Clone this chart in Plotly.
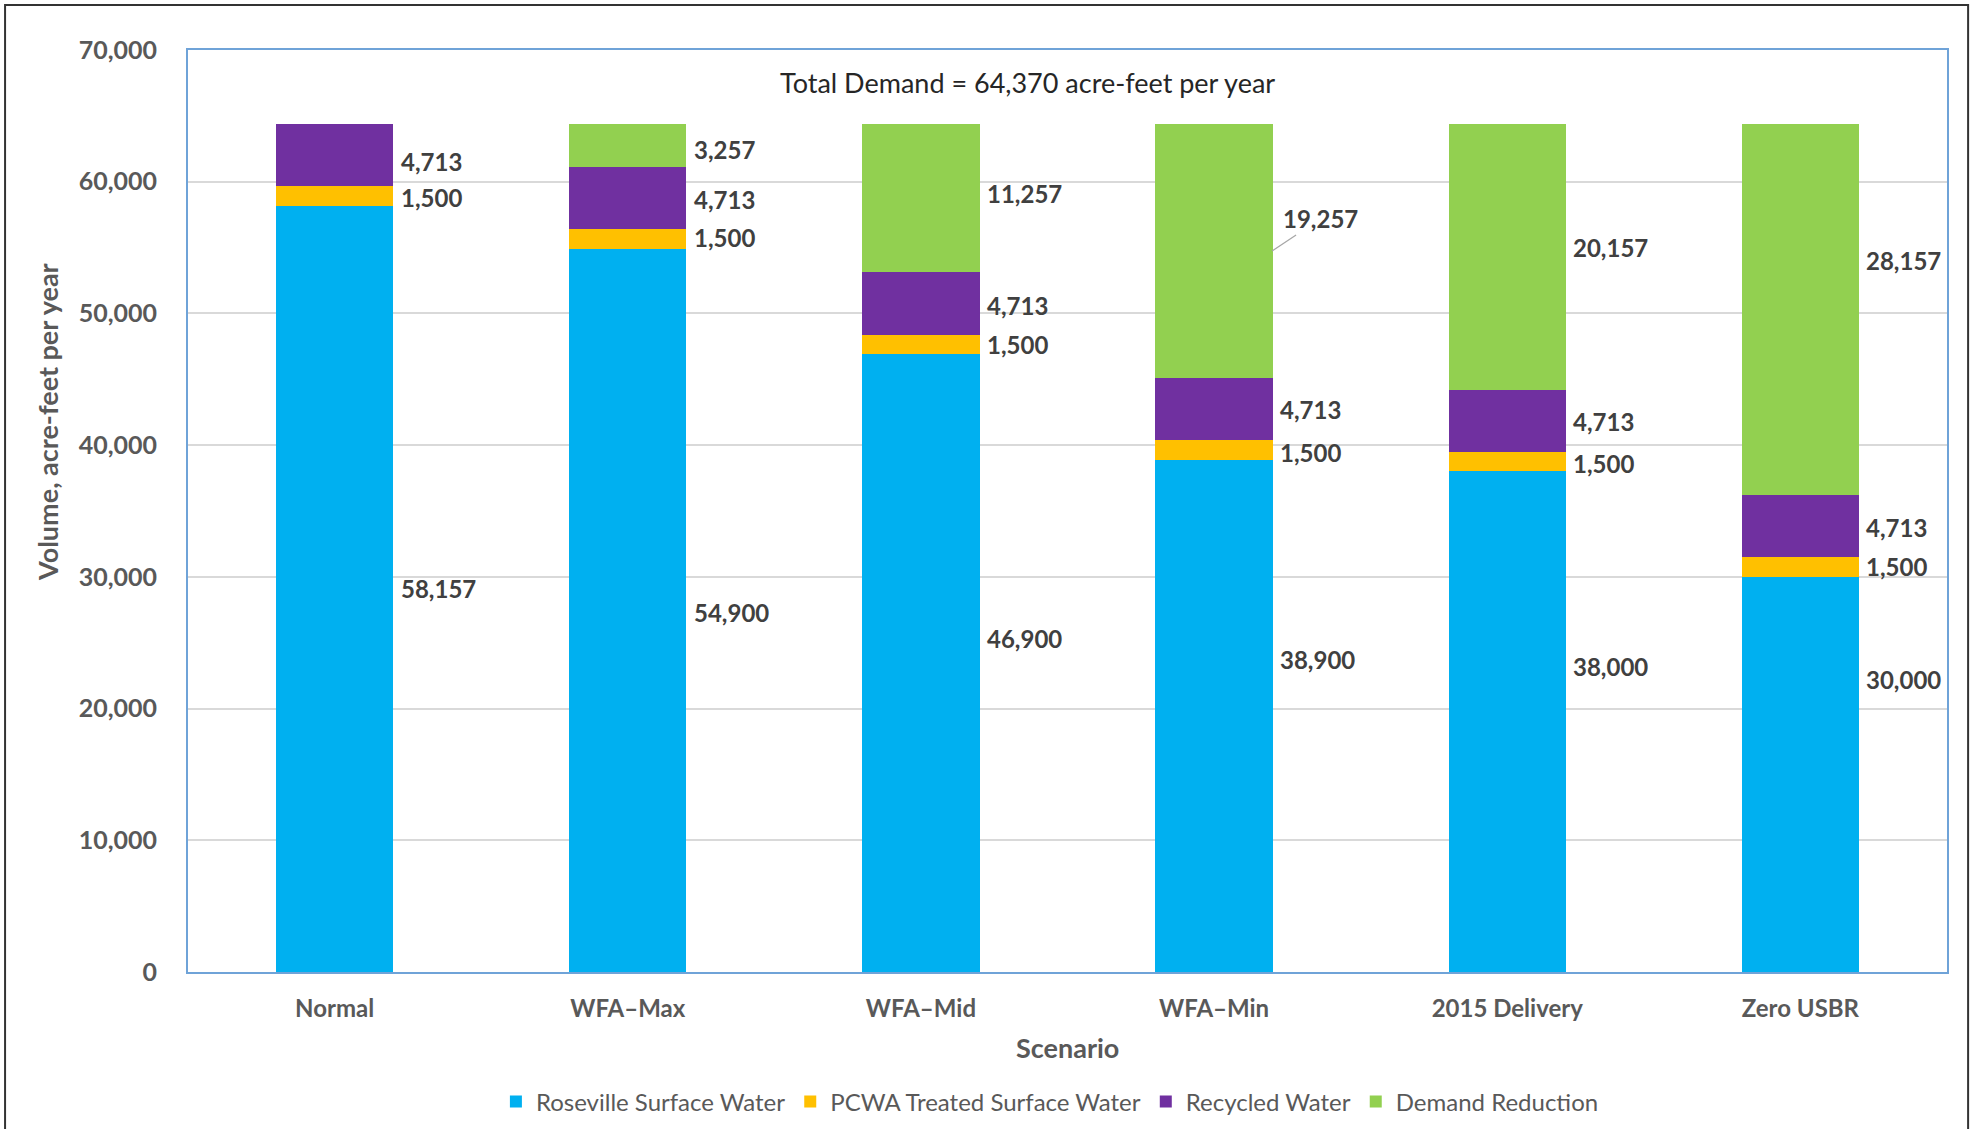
import plotly.graph_objects as go

categories = ["Normal", "WFA–Max", "WFA–Mid", "WFA–Min", "2015 Delivery", "Zero USBR"]
roseville = [58157, 54900, 46900, 38900, 38000, 30000]
pcwa = [1500, 1500, 1500, 1500, 1500, 1500]
recycled = [4713, 4713, 4713, 4713, 4713, 4713]
demand_reduction = [0, 3257, 11257, 19257, 20157, 28157]
series_names = ["Roseville Surface Water", "PCWA Treated Surface Water", "Recycled Water", "Demand Reduction"]
y_ticks = [0, 10000, 20000, 30000, 40000, 50000, 60000, 70000]
total_demand_text = "Total Demand = 64,370 acre-feet per year"

colors = ["#00B0F0", "#FFC000", "#7030A0", "#92D050"]
series = [roseville, pcwa, recycled, demand_reduction]

# label vertical pixel adjustments (layout only)
label_yshift = {
    0: [0, -2, 25, 56, 55, 95],
    1: [-1, 2, 0, -3, -2, 0],
    2: [-6, -1, -2, -1, -1, -1],
    3: [0, -4, 5, 0, 9, 49],
}

FONT = "Lato, 'Open Sans', Arial, sans-serif"
fig = go.Figure()
for name, vals, col in zip(series_names, series, colors):
    fig.add_trace(go.Bar(x=categories, y=vals, name=name, marker=dict(color=col, line=dict(width=0)),
                         width=0.4, hoverinfo="x+y+name"))

annotations = []
for i, cat in enumerate(categories):
    base = 0
    for s, vals in enumerate(series):
        v = vals[i]
        center = base + v / 2
        base += v
        if v == 0:
            continue
        txt = f"{v:,}"
        if s == 3 and cat == "WFA–Min":
            annotations.append(dict(x=cat, y=center, xref="x", yref="y", text=txt,
                                    showarrow=True, arrowhead=0, arrowwidth=1.2, arrowcolor="#A6A6A6",
                                    ax=48, ay=-32, xshift=58, xanchor="center",
                                    font=dict(family=FONT, size=24, color="#404040", weight="bold")))
            continue
        annotations.append(dict(x=cat, y=center, xref="x", yref="y", text=txt,
                                showarrow=False, xanchor="left", yanchor="middle", xshift=64,
                                yshift=label_yshift[s][i],
                                font=dict(family=FONT, size=24, color="#404040", weight="bold")))

annotations.append(dict(x=0.477, y=0.965, xref="paper", yref="paper", text=total_demand_text,
                        showarrow=False, xanchor="center", yanchor="middle",
                        font=dict(family=FONT, size=27, color="#262626")))
annotations.append(dict(x=-0.0802, y=0.5965, xref="paper", yref="paper", text="Volume, acre-feet per year",
                        showarrow=False, textangle=-90, xanchor="center", yanchor="middle",
                        font=dict(family=FONT, size=27, color="#595959", weight="bold")))
annotations.append(dict(x=0.5, y=-0.0824, xref="paper", yref="paper", text="Scenario",
                        showarrow=False, xanchor="center", yanchor="middle",
                        font=dict(family=FONT, size=27, color="#595959", weight="bold")))

fig.update_layout(
    width=1976, height=1129,
    margin=dict(l=188, r=29, t=50, b=157, autoexpand=False),
    paper_bgcolor="white", plot_bgcolor="white",
    barmode="stack", bargap=0.6,
    font=dict(family=FONT, color="#595959"),
    annotations=annotations,
    showlegend=True,
    legend=dict(orientation="h", x=0.49, xanchor="center", y=-0.141, yanchor="middle",
                font=dict(family=FONT, size=24, color="#595959"),
                traceorder="normal", itemwidth=30),
    shapes=[dict(type="rect", xref="paper", yref="paper", x0=-0.104, x1=1.012, y0=-0.19, y1=1.0488,
                 line=dict(color="#333333", width=2), fillcolor="rgba(0,0,0,0)", layer="above")],
)
fig.update_xaxes(showline=True, linecolor="#6FA3D8", linewidth=2, mirror=True, showgrid=False,
                 tickfont=dict(family=FONT, size=24, color="#595959", weight="bold"), ticks="",
                 ticklabelstandoff=14, automargin=False)
fig.update_yaxes(range=[0, 70000], tickvals=y_ticks, tickformat=",d", showline=True, linecolor="#6FA3D8",
                 linewidth=2, mirror=True, showgrid=True, gridcolor="#D9D9D9", gridwidth=1.5,
                 tickfont=dict(family=FONT, size=25, color="#595959", weight="bold"), ticks="",
                 ticklabelstandoff=24, zeroline=False, automargin=False)
fig.write_html("out.html", config={"displayModeBar": False},
               post_script="document.body.style.margin='0';document.body.style.overflow='hidden';")
